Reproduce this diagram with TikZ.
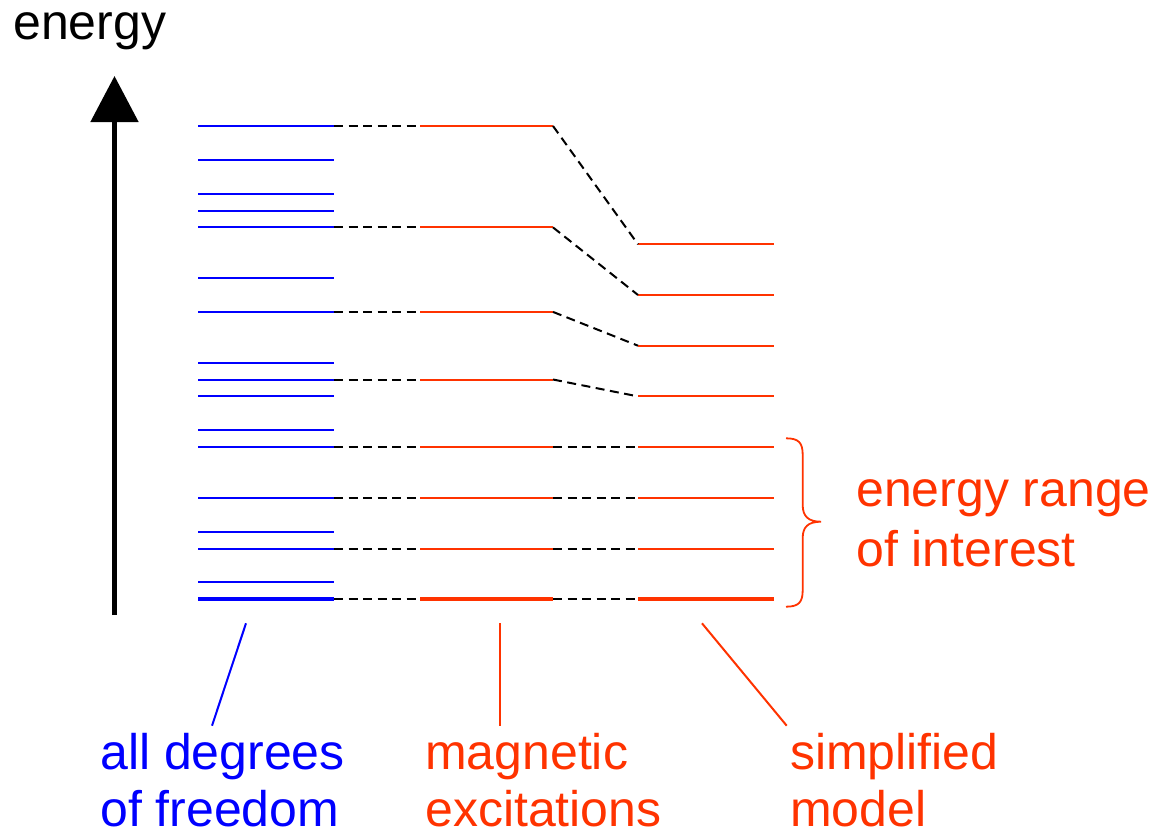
\documentclass[tikz,border=0pt]{standalone}
\usepackage{fontspec}
\setmainfont{Liberation Sans}
\usetikzlibrary{arrows.meta}
\definecolor{lvblue}{RGB}{0,0,255}
\definecolor{lvorange}{RGB}{255,51,0}
\begin{document}
\begin{tikzpicture}[x=1pt,y=-1pt,
  bluelevel/.style={draw=lvblue,line width=2pt},
  orangelevel/.style={draw=lvorange,line width=2pt},
  thicklevel/.style={line width=4pt},
  corr/.style={draw=black,line width=2pt,dash pattern=on 9pt off 5.5pt},
  pointer/.style={line width=2pt},
  label/.style={anchor=base west,inner sep=0pt,align=left,font=\fontsize{50}{57.5}\selectfont}]
\useasboundingbox (0,0) rectangle (1159,833);
% energy axis
\coordinate (axbot) at (114.5,615);
\coordinate (axtop) at (114.5,76);
\draw[line width=5pt,-{Triangle[width=47pt,length=46pt]}] (axbot) -- (axtop);
\node[label] (energy) at (13,39.3) {energy};
% all degrees of freedom
\foreach \y [count=\i] in {126,159.8,193.6,210.5,227.4,278.1,311.9,362.6,379.5,396.4,430.2,447.1,497.8,531.6,548.5,582.3}{
  \coordinate (bl\i) at (198,\y);
  \coordinate (br\i) at (334,\y);
  \draw[bluelevel] (bl\i) -- (br\i);
}
\coordinate (bl17) at (198,599.2);
\coordinate (br17) at (334,599.2);
\draw[bluelevel,thicklevel] (bl17) -- (br17);
% magnetic excitations
\foreach \y [count=\i] in {126,227.4,311.9,379.5,447.1,497.8,548.5,599.2}{
  \coordinate (bm\i) at (334,\y);
  \coordinate (ml\i) at (420,\y);
  \coordinate (mr\i) at (553,\y);
}
\foreach \i in {1,...,7}{\draw[orangelevel] (ml\i) -- (mr\i);}
\draw[orangelevel,thicklevel] (ml8) -- (mr8);
% simplified model
\foreach \y [count=\i] in {244.3,295,345.7,396.4,447.1,497.8,548.5,599.2}{
  \coordinate (sl\i) at (638,\y);
  \coordinate (sr\i) at (774,\y);
}
\foreach \i in {1,...,7}{\draw[orangelevel] (sl\i) -- (sr\i);}
\draw[orangelevel,thicklevel] (sl8) -- (sr8);
% correlation lines
\foreach \i in {1,...,8}{
  \draw[corr] (bm\i) -- (ml\i);
  \draw[corr] (mr\i) -- (sl\i);
}
% brace
\coordinate (brtop) at (786,438.3);
\coordinate (brtip) at (821,521.7);
\coordinate (brbot) at (786,606.7);
\draw[lvorange,line width=1.8pt] (brtop) .. controls (799,438.3) and (802.7,443) .. (802.7,455)
  -- (802.7,505) .. controls (802.7,516) and (808,521.7) .. (brtip)
  .. controls (808,521.7) and (802.7,527) .. (802.7,538)
  -- (802.7,590) .. controls (802.7,602) and (799,606.7) .. (brbot);
\node[label,text=lvorange,font=\fontsize{50}{60}\selectfont] (range) at (856,566.7) {energy range\\of interest};
% labels and pointers
\node[label,text=lvblue] (alldof) at (100,826.7) {all degrees\\of freedom};
\node[label,text=lvorange] (magexc) at (425,826.7) {magnetic\\excitations};
\node[label,text=lvorange] (simpl) at (790,826.7) {simplified\\model};
\coordinate (p1a) at (246,623.3); \coordinate (p1b) at (212,725.7);
\coordinate (p2a) at (499.5,623.3); \coordinate (p2b) at (499.5,725.7);
\coordinate (p3a) at (702,623.3); \coordinate (p3b) at (786.7,725.7);
\draw[pointer,lvblue] (p1a) -- (p1b);
\draw[pointer,lvorange] (p2a) -- (p2b);
\draw[pointer,lvorange] (p3a) -- (p3b);
\end{tikzpicture}
\end{document}
